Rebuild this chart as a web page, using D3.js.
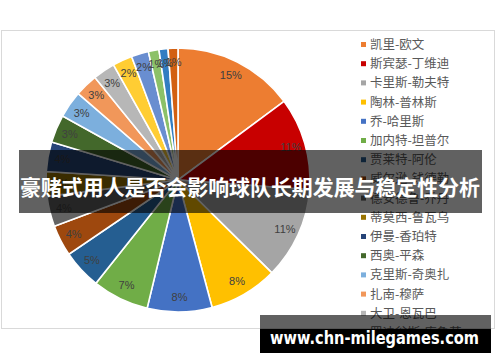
<!DOCTYPE html>
<html>
<head>
<meta charset="utf-8">
<script src="https://cdn.jsdelivr.net/npm/d3@7"></script>
<style>
  body { margin: 0; background: #fff; }
  svg { display: block; }
</style>
</head>
<body>
<div id="chart"></div>
<script>
// players, in legend / pie order
const players = [
  '凯里-欧文', '斯宾瑟-丁维迪', '卡里斯-勒夫特', '陶林-普林斯', '乔-哈里斯',
  '加内特-坦普尔', '贾莱特-阿伦', '威尔逊-钱德勒', '德安德鲁-乔丹', '蒂莫西-鲁瓦乌',
  '伊曼-香珀特', '西奥-平森', '克里斯-奇奥扎', '扎南-穆萨', '大卫-恩瓦巴',
  '罗迪翁斯-库鲁茨', '尼古拉斯-克拉克斯顿', '贾斯汀-安德森', '兰斯-托马斯', '泰勒-约翰逊'
];
// share of total, percent
const shares = [
  14.8, 11.3, 11.2, 8.4, 7.9,
  6.9, 4.8, 3.8, 3.7, 3.0,
  3.6, 3.4, 3.3, 2.8, 2.7,
  2.4, 2.1, 1.3, 1.1, 1.2
];
const colors = [
  '#ED7D31', '#C80000', '#A5A5A5', '#FFC000', '#4472C4',
  '#70AD47', '#255E91', '#9E480E', '#636363', '#997300',
  '#264478', '#43682B', '#7CAFDD', '#F1975A', '#B7B7B7',
  '#FFCD33', '#698ED0', '#8CC168', '#327DC2', '#D26012'
];
const title = '豪赌式用人是否会影响球队长期发展与稳定性分析';
const site = 'www.chn-milegames.com';
// only the first rows of the legend fit inside the frame
const legendRows = 16;

const W = 500, H = 362;
const svg = d3.select('#chart').append('svg')
  .attr('width', W)
  .attr('height', H);

// chart frame
svg.append('rect')
  .attr('x', 1.5).attr('y', 30.5)
  .attr('width', 493).attr('height', 298)
  .attr('fill', '#fff')
  .attr('stroke', '#d9d9d9');

const data = players.map((p, i) => ({ name: p, value: shares[i] }));
const color = d3.scaleOrdinal().domain(players).range(colors);

// pie
const cx = 178, cy = 180, r = 132;
const pie = d3.pie().sort(null).value(d => d.value);
const arc = d3.arc().innerRadius(0).outerRadius(r);
const labelArc = d3.arc().innerRadius(r * 0.89).outerRadius(r * 0.89);
const total = d3.sum(shares);

const g = svg.append('g').attr('transform', `translate(${cx},${cy})`);
const arcs = pie(data);
g.selectAll('path')
  .data(arcs)
  .enter()
  .append('path')
  .attr('d', arc)
  .attr('fill', d => color(d.data.name))
  .attr('stroke', '#fff')
  .attr('stroke-width', 1.6);

g.selectAll('text')
  .data(arcs)
  .enter()
  .append('text')
  .attr('transform', d => `translate(${labelArc.centroid(d)})`)
  .attr('text-anchor', 'middle')
  .attr('dy', '0.35em')
  .style('font-family', '"Liberation Sans", Arial, sans-serif')
  .style('font-size', '11px')
  .attr('fill', '#404040')
  .text(d => Math.round(d.data.value / total * 100) + '%');

// legend, clipped to the frame like the original
svg.append('clipPath').attr('id', 'legclip')
  .append('rect').attr('x', 350).attr('y', 30).attr('width', 145).attr('height', 310);
const ly = d3.scaleLinear().domain([0, 1]).range([44.5, 63.7]);
const leg = svg.append('g').attr('clip-path', 'url(#legclip)');
const rows = leg.selectAll('g')
  .data(data.slice(0, legendRows))
  .enter()
  .append('g')
  .attr('transform', (d, i) => `translate(361,${ly(i)})`);
rows.append('rect')
  .attr('x', 0).attr('y', -2.5)
  .attr('width', 5).attr('height', 5)
  .attr('fill', d => color(d.name));
rows.append('text')
  .attr('x', 9)
  .attr('dy', '0.36em')
  .style('font-family', '"Noto Sans CJK SC", sans-serif')
  .style('font-size', '12.5px')
  .attr('fill', '#595959')
  .text(d => d.name);

// title banner
svg.append('rect')
  .attr('x', 19).attr('y', 150)
  .attr('width', 463).attr('height', 63)
  .attr('fill', 'rgba(0,0,0,0.62)');
svg.append('text')
  .attr('x', 250).attr('y', 186)
  .attr('text-anchor', 'middle')
  .attr('dominant-baseline', 'central')
  .attr('textLength', 460)
  .attr('lengthAdjust', 'spacingAndGlyphs')
  .style('font-family', '"Noto Sans CJK SC", sans-serif')
  .style('font-size', '21px')
  .style('font-weight', 'bold')
  .attr('fill', '#fff')
  .text(title);

// site watermark
svg.append('rect')
  .attr('x', 260).attr('y', 315)
  .attr('width', 231).attr('height', 14)
  .attr('fill', 'rgba(0,0,0,0.62)');
svg.append('rect')
  .attr('x', 260).attr('y', 329)
  .attr('width', 231).attr('height', 24)
  .attr('fill', '#000');
svg.append('text')
  .attr('x', 270).attr('y', 344)
  .attr('textLength', 209)
  .attr('lengthAdjust', 'spacingAndGlyphs')
  .style('font-family', '"DejaVu Sans", sans-serif')
  .style('font-size', '17px')
  .style('font-weight', 'bold')
  .attr('fill', '#fff')
  .text(site);
</script>
</body>
</html>
